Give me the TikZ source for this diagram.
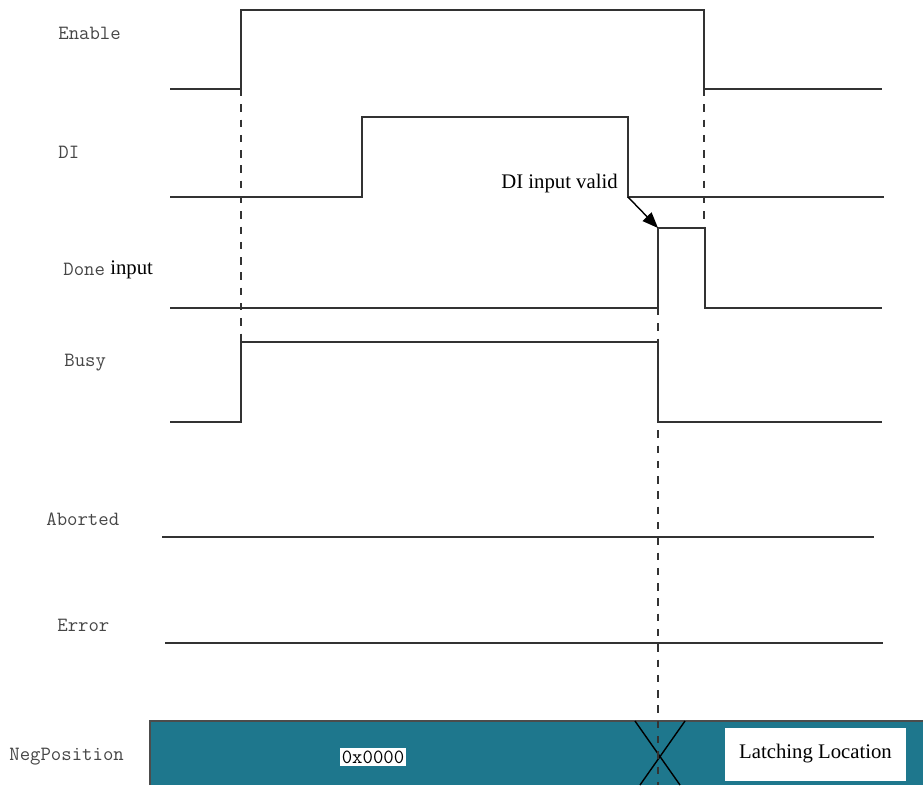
\documentclass[tikz,border=0pt]{standalone}
\usepackage{fontspec}
\newfontfamily\labelfont{Liberation Serif}
\usetikzlibrary{arrows.meta}
\definecolor{busteal}{RGB}{30,119,141}
\definecolor{wavegray}{RGB}{50,50,50}
\definecolor{textgray}{RGB}{70,70,70}
\tikzset{
  wave/.style={draw=wavegray, line width=1pt},
  guide/.style={draw=black!80, line width=0.9pt, dash pattern=on 4.2pt off 4.5pt},
  signame/.style={anchor=west, text=textgray, font=\ttfamily\fontsize{11.5}{13}\selectfont, inner sep=0pt},
  note/.style={text=black, font=\labelfont\fontsize{11.8}{13}\selectfont, inner sep=0pt}
}
\begin{document}
\begin{tikzpicture}[x=0.02cm, y=-0.02cm]
				\useasboundingbox (0,0) rectangle (923,785);
				% signal names
				\node[signame] (enable) at (58,33) {Enable};
				\node[signame] (di) at (58,152) {DI};
				\node[signame] (done) at (63,269) {Done};
				\node[signame] (busy) at (64,363) {Busy};
				\node[signame] (aborted) at (46,519) {Aborted};
				\node[signame] (error) at (57,625) {Error};
				\node[signame] (negpos) at (9,757) {NegPosition};
				\node[note, anchor=west] (doneinput) at (110,270) {input};
				% waveforms
				\draw[wave] (170,89) -- (241,89) -- (241,10) -- (704,10) -- (704,89) -- (882,89);
				\draw[wave] (170,197) -- (362,197) -- (362,117) -- (628,117) -- (628,197) -- (884,197);
				\draw[wave] (170,308) -- (658,308) -- (658,228) -- (705,228) -- (705,308) -- (882,308);
				\draw[wave] (170,422) -- (241,422) -- (241,342) -- (658,342) -- (658,422) -- (882,422);
				\draw[wave] (162,537) -- (874,537);
				\draw[wave] (165,643) -- (883,643);
				% NegPosition bus
				\fill[busteal] (150,721) rectangle (923,785);
				\draw[draw=black!70, line width=0.8pt] (150,785) -- (150,721) -- (923,721);
				\draw[line width=0.8pt] (635,721) -- (680,785);
				\draw[line width=0.8pt] (685,721) -- (640,785);
				\node[fill=white, inner sep=1.2pt, text=black, font=\ttfamily\fontsize{11.5}{13}\selectfont] (oldval) at (373,757) {0x0000};
				\node[fill=white, minimum width=3.62cm, minimum height=1.06cm, note] (latch) at (815.5,754) {Latching Location};
				% guides
				\draw[guide] (241,89) -- (241,342);
				\draw[guide] (704,89) -- (704,228);
				\draw[guide] (658,308) -- (658,785);
				% trigger arrow
				\coordinate (difall) at (628,197);
				\coordinate (donerise) at (658,228);
				\draw[line width=0.8pt, -{Triangle[length=9pt, width=7pt]}] (difall) -- (donerise);
				\node[note, anchor=east] (divalid) at (618,184) {DI input valid};
			\end{tikzpicture}
\end{document}
